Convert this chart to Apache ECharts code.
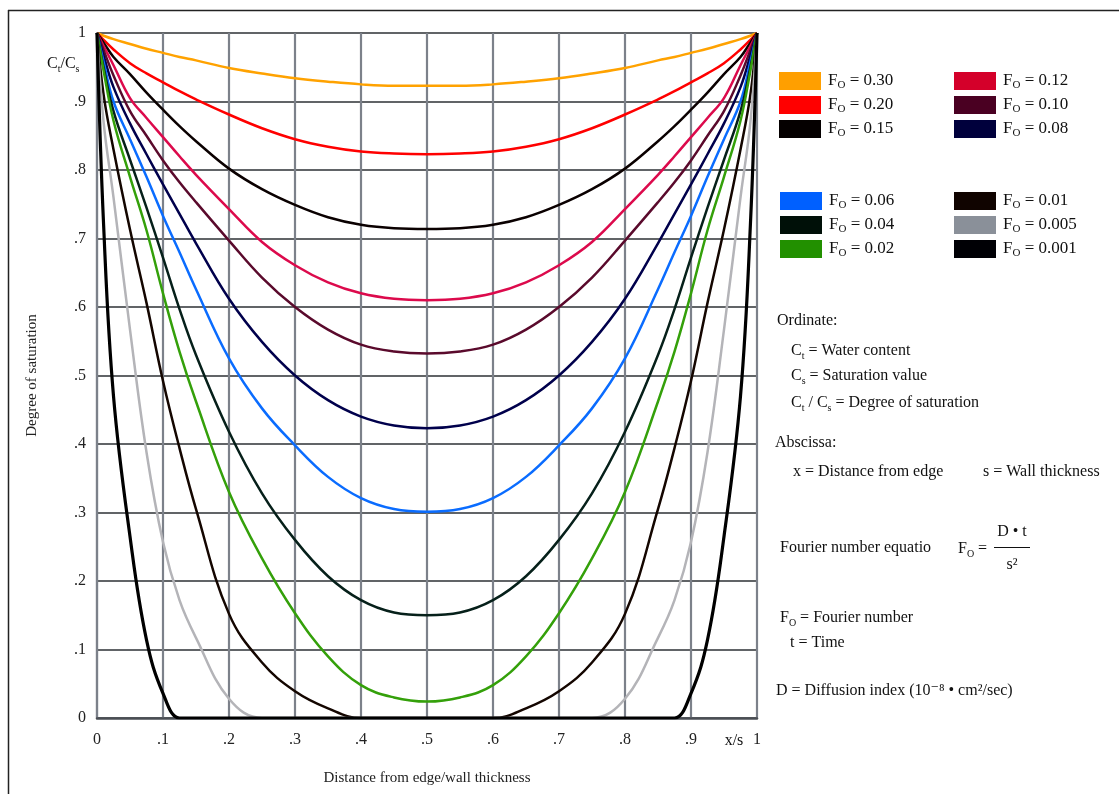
<!DOCTYPE html>
<html>
<head>
<meta charset="utf-8">
<script src="https://cdn.jsdelivr.net/npm/echarts@6/dist/echarts.min.js"></script>
<style>
  html, body { margin: 0; background: #fff; }
  #chart { width: 1119px; height: 794px; }
</style>
</head>
<body>
<div id="chart"></div>
<script>
// x/s positions shared by every curve (denser near the two surfaces)
const xs = [0, 0.01, 0.025, 0.05, 0.075, 0.1, 0.125, 0.15, 0.2, 0.25, 0.3, 0.35, 0.4, 0.45, 0.5,
  0.55, 0.6, 0.65, 0.7, 0.75, 0.8, 0.85, 0.875, 0.9, 0.925, 0.95, 0.975, 0.99, 1];

// degree of saturation Ct/Cs, one array per Fourier number
const fo030 = [1, .996, .991, .984, .977, .971, .965, .960, .949, .941, .934, .929, .925, .923, .923,
  .923, .925, .929, .934, .941, .949, .960, .965, .971, .977, .984, .991, .996, 1];
const fo020 = [1, .990, .976, .956, .941, .928, .915, .903, .881, .861, .845, .834, .827, .824, .823,
  .824, .827, .834, .845, .861, .881, .903, .915, .928, .941, .956, .976, .990, 1];
const fo015 = [1, .986, .965, .940, .913, .888, .864, .842, .802, .772, .749, .731, .720, .715, .714,
  .715, .720, .731, .749, .772, .802, .842, .864, .888, .913, .940, .965, .986, 1];
const fo012 = [1, .981, .953, .905, .876, .848, .820, .793, .743, .695, .661, .636, .620, .612, .610,
  .612, .620, .636, .661, .695, .743, .793, .820, .848, .876, .905, .953, .981, 1];
const fo010 = [1, .975, .938, .886, .850, .814, .782, .753, .697, .643, .600, .567, .545, .535, .532,
  .535, .545, .567, .600, .643, .697, .753, .782, .814, .850, .886, .938, .975, 1];
const fo008 = [1, .967, .921, .868, .823, .779, .736, .693, .612, .549, .500, .464, .440, .427, .423,
  .427, .440, .464, .500, .549, .612, .693, .736, .779, .823, .868, .921, .967, 1];
const fo006 = [1, .958, .900, .845, .790, .733, .680, .626, .525, .452, .398, .352, .321, .305, .301,
  .305, .321, .352, .398, .452, .525, .626, .680, .733, .790, .845, .900, .958, 1];
const fo004 = [1, .950, .886, .815, .745, .672, .597, .530, .418, .328, .260, .207, .172, .154, .150,
  .154, .172, .207, .260, .328, .418, .530, .597, .672, .745, .815, .886, .950, 1];
const fo002 = [1, .945, .872, .790, .712, .620, .535, .462, .330, .233, .153, .090, .048, .030, .024,
  .030, .048, .090, .153, .233, .330, .462, .535, .620, .712, .790, .872, .945, 1];
const fo001 = [1, .910, .830, .713, .606, .492, .394, .305, .152, .081, .039, .014, 0, 0, 0,
  0, 0, .014, .039, .081, .152, .305, .394, .492, .606, .713, .830, .910, 1];
const fo0005 = [1, .870, .760, .567, .388, .257, .172, .117, .028, 0, 0, 0, 0, 0, 0,
  0, 0, 0, 0, 0, .028, .117, .172, .257, .388, .567, .760, .870, 1];
const fo0001 = [1, .720, .470, .265, .114, .036, 0, 0, 0, 0, 0, 0, 0, 0, 0,
  0, 0, 0, 0, 0, 0, 0, 0, .036, .114, .265, .470, .720, 1];

const foLabels = ['0.30', '0.20', '0.15', '0.12', '0.10', '0.08', '0.06', '0.04', '0.02', '0.01', '0.005', '0.001'];
const foValues = [fo030, fo020, fo015, fo012, fo010, fo008, fo006, fo004, fo002, fo001, fo0005, fo0001];
const lineColors = ['#ffa200', '#ff0000', '#0a0000', '#dc0a4c', '#5a0a2c', '#00004c',
  '#0a6cff', '#06201a', '#34a00a', '#140600', '#b4b4b8', '#000000'];
const swatchColors = ['#ff9f00', '#ff0000', '#050000', '#d4002a', '#4a0022', '#00003c',
  '#0060ff', '#001008', '#229000', '#100400', '#8a9099', '#000005'];

const yTicks = ['0', '.1', '.2', '.3', '.4', '.5', '.6', '.7', '.8', '.9', '1'];
const xTicks = ['0', '.1', '.2', '.3', '.4', '.5', '.6', '.7', '.8', '.9', '1'];

const SERIF = '"Liberation Serif", "DejaVu Serif", serif';
const names = foLabels.map((l) => 'F_O = ' + l);

const series = foValues.map((vals, i) => ({
  name: names[i],
  type: 'line',
  data: xs.map((x, j) => [x, vals[j]]),
  smooth: 0.4,
  showSymbol: false,
  color: swatchColors[i],
  lineStyle: { color: lineColors[i], width: i === 11 ? 3.2 : 2.5 },
  itemStyle: { color: swatchColors[i] },
  z: 3,
}));

const legendRich = {
  f: { fontFamily: SERIF, fontSize: 17, color: '#111', lineHeight: 20 },
  o: { fontFamily: SERIF, fontSize: 11, color: '#111', lineHeight: 10, verticalAlign: 'bottom' },
};
function legendBlock(items, left, top) {
  return {
    data: items.map((i) => ({ name: names[i], itemStyle: { color: swatchColors[i] } })),
    left, top,
    padding: 0,
    orient: 'vertical',
    icon: 'rect',
    itemWidth: 42,
    itemHeight: 18,
    itemGap: 5,
    selectedMode: false,
    formatter: (n) => '{f|F}{o|O}{f| = ' + n.split('= ')[1] + '}',
    textStyle: { rich: legendRich, padding: [0, 0, 0, 2] },
  };
}

const rich = {
  a: { fontFamily: SERIF, fontSize: 16, color: '#111', lineHeight: 20 },
  s: { fontFamily: SERIF, fontSize: 10, color: '#111', lineHeight: 10, verticalAlign: 'bottom' },
};
function txt(text, x, y, align) {
  return {
    type: 'text', x, y,
    style: { text, rich, align: align || 'left', verticalAlign: 'middle', fill: '#111' },
  };
}

const graphic = [
  { type: 'line', shape: { x1: 8.5, y1: 10, x2: 8.5, y2: 794 }, style: { stroke: '#222', lineWidth: 1.5 } },
  { type: 'line', shape: { x1: 8, y1: 10.5, x2: 1119, y2: 10.5 }, style: { stroke: '#222', lineWidth: 1.5 } },
  txt('{a|C}{s|t}{a|/C}{s|s}', 47, 64),
  txt('{a|x/s}', 734, 741, 'center'),
  txt('{a|Ordinate:}', 777, 321),
  txt('{a|C}{s|t}{a| = Water content}', 791, 351),
  txt('{a|C}{s|s}{a| = Saturation value}', 791, 376),
  txt('{a|C}{s|t}{a| / C}{s|s}{a| = Degree of saturation}', 791, 403),
  txt('{a|Abscissa:}', 775, 443),
  txt('{a|x = Distance from edge}', 793, 472),
  txt('{a|s = Wall thickness}', 983, 472),
  txt('{a|Fourier number equatio}', 780, 548),
  txt('{a|F}{s|O}{a| =}', 958, 549),
  txt('{a|D • t}', 1012, 532, 'center'),
  { type: 'line', shape: { x1: 994, y1: 547.5, x2: 1030, y2: 547.5 }, style: { stroke: '#111', lineWidth: 1 } },
  txt('{a|s²}', 1012, 565, 'center'),
  txt('{a|F}{s|O}{a| = Fourier number}', 780, 618),
  txt('{a|t = Time}', 790, 643),
  txt('{a|D = Diffusion index (10⁻⁸ • cm²/sec)}', 776, 691),
];

const chart = echarts.init(document.getElementById('chart'), null, { renderer: 'canvas' });
chart.setOption({
  animation: false,
  backgroundColor: '#fff',
  grid: { left: 97, right: 362, top: 33, bottom: 76 },
  legend: [
    legendBlock([0, 1, 2], 779, 72),
    legendBlock([3, 4, 5], 954, 72),
    legendBlock([6, 7, 8], 780, 192),
    legendBlock([9, 10, 11], 954, 192),
  ],
  xAxis: {
    type: 'value', min: 0, max: 1, interval: 0.1,
    name: 'Distance from edge/wall thickness',
    nameLocation: 'middle', nameGap: 53,
    nameTextStyle: { fontFamily: SERIF, fontSize: 15, color: '#222' },
    axisLine: { show: true, lineStyle: { color: '#4a4e54', width: 2.5 } },
    axisTick: { show: false },
    axisLabel: {
      margin: 14, fontFamily: SERIF, fontSize: 16, color: '#222',
      formatter: (v) => xTicks[Math.round(v * 10)],
    },
    splitLine: { show: true, lineStyle: { color: '#7c818a', width: 2.2 } },
  },
  yAxis: {
    type: 'value', min: 0, max: 1, interval: 0.1,
    name: 'Degree of saturation',
    nameLocation: 'middle', nameGap: 57, nameRotate: 90,
    nameTextStyle: { fontFamily: SERIF, fontSize: 15, color: '#222' },
    axisLine: { show: true, lineStyle: { color: '#7c818a', width: 2.2 } },
    axisTick: { show: false },
    axisLabel: {
      margin: 11, fontFamily: SERIF, fontSize: 16, color: '#222',
      formatter: (v) => yTicks[Math.round(v * 10)],
    },
    splitLine: { show: true, lineStyle: { color: '#2c3034', width: 1.6 } },
  },
  series,
  graphic,
});
</script>
</body>
</html>
